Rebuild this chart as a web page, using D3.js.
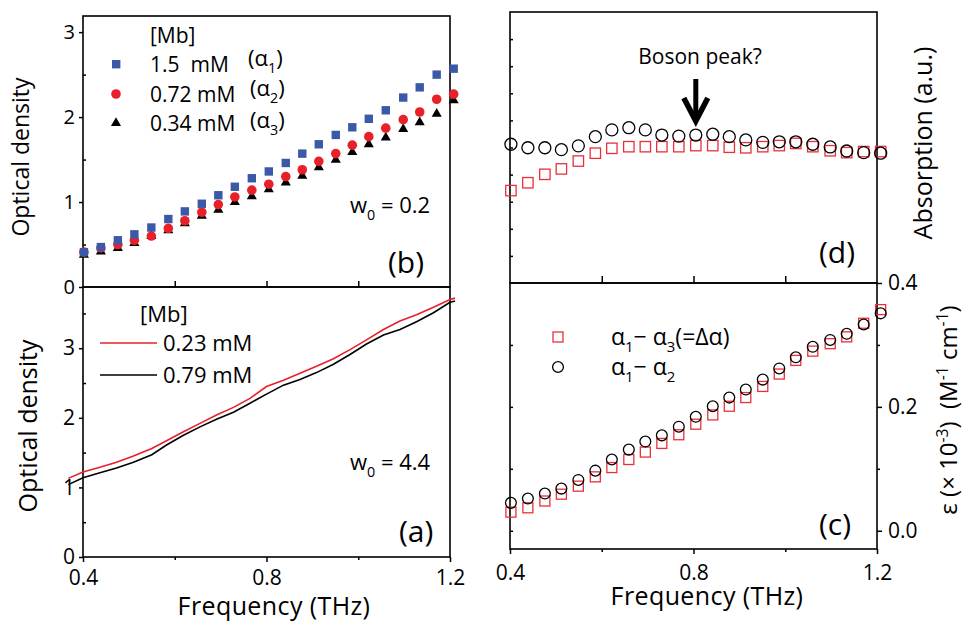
<!DOCTYPE html>
<html>
<head>
<meta charset="utf-8">
<script src="https://cdn.jsdelivr.net/npm/d3@7"></script>
<style>
  body { margin: 0; background: #fff; }
  text { font-family: "Open Sans", sans-serif; fill: #000; }
</style>
</head>
<body>
<div id="chart"></div>
<script>
// frequencies of the measured points (THz)
var freqPts = [0.402, 0.439, 0.476, 0.512, 0.549, 0.586, 0.622, 0.659, 0.695, 0.731, 0.768, 0.805,
               0.842, 0.878, 0.914, 0.951, 0.987, 1.023, 1.06, 1.098, 1.134, 1.171, 1.208];
// panel (b), w0 = 0.2
var od15 = [0.41, 0.47, 0.55, 0.62, 0.70, 0.80, 0.89, 0.98, 1.08, 1.18, 1.28, 1.36,
            1.46, 1.57, 1.68, 1.79, 1.88, 1.98, 2.08, 2.23, 2.35, 2.50, 2.57];
var od072 = [0.41, 0.46, 0.50, 0.55, 0.60, 0.69, 0.78, 0.88, 0.97, 1.06, 1.14, 1.21,
             1.30, 1.38, 1.48, 1.57, 1.67, 1.77, 1.87, 1.97, 2.06, 2.21, 2.27];
var od034 = [0.39, 0.43, 0.47, 0.53, 0.61, 0.68, 0.76, 0.85, 0.92, 1.01, 1.08, 1.16,
             1.24, 1.32, 1.42, 1.51, 1.60, 1.69, 1.77, 1.87, 1.95, 2.05, 2.21];
// panel (a), w0 = 4.4
var freqLine = [0.368, 0.4, 0.437, 0.473, 0.51, 0.55, 0.582, 0.619, 0.655, 0.691, 0.728, 0.764, 0.8,
                0.837, 0.873, 0.909, 0.946, 0.982, 1.018, 1.055, 1.091, 1.127, 1.164, 1.2, 1.211];
var od023 = [1.13, 1.22, 1.29, 1.36, 1.45, 1.56, 1.67, 1.80, 1.92, 2.04, 2.15, 2.28, 2.45,
             2.54, 2.64, 2.74, 2.85, 2.98, 3.12, 3.27, 3.39, 3.48, 3.59, 3.70, 3.72];
var od079 = [1.04, 1.14, 1.21, 1.28, 1.36, 1.47, 1.61, 1.75, 1.87, 1.98, 2.08, 2.21, 2.34,
             2.47, 2.55, 2.65, 2.77, 2.91, 3.06, 3.19, 3.27, 3.38, 3.51, 3.66, 3.68];
// panel (d), absorption (a.u.)
var absA13 = [3.41, 3.70, 4.01, 4.21, 4.50, 4.79, 4.97, 5.03, 5.03, 5.03, 5.03, 5.07,
              5.07, 5.01, 4.99, 5.03, 5.07, 5.15, 5.03, 4.88, 4.81, 4.85, 4.85];
var absA12 = [5.12, 4.99, 4.99, 4.92, 5.06, 5.40, 5.65, 5.73, 5.65, 5.46, 5.42, 5.46,
              5.49, 5.40, 5.28, 5.19, 5.21, 5.21, 5.12, 5.02, 4.87, 4.81, 4.79];
// panel (c), epsilon (x 10^-3)
var epsA13 = [0.030, 0.037, 0.048, 0.059, 0.072, 0.087, 0.102, 0.115, 0.127, 0.141, 0.155, 0.172,
              0.187, 0.201, 0.215, 0.233, 0.253, 0.275, 0.290, 0.302, 0.313, 0.335, 0.357];
var epsA12 = [0.045, 0.052, 0.060, 0.068, 0.082, 0.097, 0.115, 0.131, 0.144, 0.154, 0.168, 0.184,
              0.201, 0.215, 0.228, 0.244, 0.262, 0.280, 0.297, 0.308, 0.318, 0.333, 0.351];

var bosonFreq = 0.805;

var RED = "#e8202a", BLUE = "#3a5aa8", OPENRED = "#e8303a";
var FONT = '"Open Sans", sans-serif';

var svg = d3.select("#chart").append("svg").attr("width", 964).attr("height", 622);

var xL = d3.scaleLinear().domain([0.4, 1.2]).range([83, 450]);
var xR = d3.scaleLinear().domain([0.4, 1.2]).range([510, 877]);
var yB = d3.scaleLinear().domain([0, 3.19]).range([287, 16]);
var yA = d3.scaleLinear().domain([0, 3.88]).range([557, 287]);
var yD = d3.scaleLinear().domain([0, 10]).range([283, 12]);
var yC = d3.scaleLinear().domain([-0.0295, 0.4]).range([549, 283]);

function frame(x, y) {
    svg.append("rect")
        .attr("x", x.range()[0]).attr("y", y.range()[1])
        .attr("width", x.range()[1] - x.range()[0])
        .attr("height", y.range()[0] - y.range()[1])
        .attr("fill", "none").attr("stroke", "#000").attr("stroke-width", 1.6);
}

function ax(gen, tx, ty, vals, size, fmt, fs, pad) {
    var g = svg.append("g")
        .attr("transform", "translate(" + tx + "," + ty + ")")
        .call(gen.tickValues(vals).tickSize(size).tickPadding(pad || 4)
            .tickFormat(fmt || function () { return ""; }));
    g.select(".domain").remove();
    g.selectAll("line").attr("stroke", "#000").attr("stroke-width", 1.5);
    g.attr("font-family", FONT).attr("font-size", fs || 18);
    g.selectAll("text").attr("fill", "#000");
    return g;
}

function label(x, y, size, parts, opts) {
    opts = opts || {};
    var t = svg.append("text")
        .attr("x", x).attr("y", y)
        .attr("font-size", size)
        .style("white-space", "pre")
        .attr("text-anchor", opts.anchor || "start");
    if (opts.rotate) {
        t.attr("x", 0).attr("y", 0)
            .attr("transform", "translate(" + x + "," + y + ") rotate(-90)");
    }
    if (opts.spacing) t.attr("letter-spacing", opts.spacing);
    // parts: strings, or [text, "sub"|"sup"]
    var shift = 0;
    parts.forEach(function (p) {
        var s = typeof p === "string" ? p : p[0];
        var kind = typeof p === "string" ? null : p[1];
        var want = kind === "sub" ? size * 0.3 : kind === "sup" ? -size * 0.38 : 0;
        var ts = t.append("tspan").attr("dy", want - shift).text(s);
        if (kind) ts.attr("font-size", size * 0.65);
        shift = want;
    });
    return t;
}

var fmt1 = d3.format(".1f"), fmtD = d3.format("d");

// ---------- panel (b) ----------
frame(xL, yB);
ax(d3.axisLeft(yB), 83, 0, [0, 1, 2, 3], 4, fmtD, 20, 4);
ax(d3.axisLeft(yB), 83, 0, [0.5, 1.5, 2.5], -3);
ax(d3.axisBottom(xL), 0, 287, [0.6, 0.8, 1.0], -6);

svg.append("g").selectAll("path")
    .data(freqPts.map(function (f, i) { return [f, od034[i]]; }))
    .join("path")
    .attr("d", d3.symbol(d3.symbolTriangle).size(44))
    .attr("transform", function (d) { return "translate(" + xL(d[0]) + "," + (yB(d[1]) + 1) + ")"; })
    .attr("fill", "#000");
svg.append("g").selectAll("circle")
    .data(freqPts.map(function (f, i) { return [f, od072[i]]; }))
    .join("circle")
    .attr("cx", function (d) { return xL(d[0]); })
    .attr("cy", function (d) { return yB(d[1]); })
    .attr("r", 4.8).attr("fill", RED);
svg.append("g").selectAll("rect")
    .data(freqPts.map(function (f, i) { return [f, od15[i]]; }))
    .join("rect")
    .attr("x", function (d) { return xL(d[0]) - 4.2; })
    .attr("y", function (d) { return yB(d[1]) - 4.2; })
    .attr("width", 8.4).attr("height", 8.4).attr("fill", BLUE);

// legend (b)
label(150, 43, 21, ["[Mb]"]);
svg.append("rect").attr("x", 112).attr("y", 60).attr("width", 8.4).attr("height", 8.4).attr("fill", BLUE);
svg.append("circle").attr("cx", 116).attr("cy", 94).attr("r", 4.8).attr("fill", RED);
svg.append("path").attr("d", d3.symbol(d3.symbolTriangle).size(44)())
    .attr("transform", "translate(116,123)").attr("fill", "#000");
label(150, 72, 21, ["1.5  mM"]);
label(150, 102, 21, ["0.72 mM"]);
label(150, 131, 21, ["0.34 mM"]);
label(248, 66, 22, ["(\u03b1", ["1", "sub"], ")"]);
label(250, 96, 22, ["(\u03b1", ["2", "sub"], ")"]);
label(250, 128, 22, ["(\u03b1", ["3", "sub"], ")"]);
label(350, 213, 22, ["w", ["0", "sub"], " = 0.2"]);
label(388, 273, 30, ["(b)"]);
label(29, 157, 23, ["Optical density"], { rotate: true, anchor: "middle" });

// ---------- panel (a) ----------
frame(xL, yA);
ax(d3.axisLeft(yA), 83, 0, [0, 1, 2, 3], 4, fmtD, 21, 4);
ax(d3.axisLeft(yA), 83, 0, [0.5, 1.5, 2.5, 3.5], -3);
ax(d3.axisBottom(xL), 0, 557, [0.4, 0.8, 1.2], 5, fmt1, 21, 8);
ax(d3.axisBottom(xL), 0, 557, [0.6, 1.0], 3);

var lineA = d3.line()
    .x(function (d) { return xL(d[0]); })
    .y(function (d) { return yA(d[1]); });
svg.append("path")
    .attr("d", lineA(freqLine.map(function (f, i) { return [f, od079[i]]; })))
    .attr("fill", "none").attr("stroke", "#000").attr("stroke-width", 1.6);
svg.append("path")
    .attr("d", lineA(freqLine.map(function (f, i) { return [f, od023[i]]; })))
    .attr("fill", "none").attr("stroke", RED).attr("stroke-width", 1.6);

label(140, 322, 22, ["[Mb]"]);
svg.append("line").attr("x1", 100).attr("x2", 157).attr("y1", 343).attr("y2", 343)
    .attr("stroke", RED).attr("stroke-width", 1.6);
svg.append("line").attr("x1", 100).attr("x2", 157).attr("y1", 375).attr("y2", 375)
    .attr("stroke", "#000").attr("stroke-width", 1.6);
label(163, 351, 22, ["0.23 mM"]);
label(163, 383, 22, ["0.79 mM"]);
label(350, 470, 22, ["w", ["0", "sub"], " = 4.4"]);
label(399, 542, 30, ["(a)"]);
label(37, 426, 25, ["Optical density"], { rotate: true, anchor: "middle" });
label(274, 615, 25, ["Frequency (THz)"], { anchor: "middle", spacing: 0.4 });

// ---------- panel (d) ----------
frame(xR, yD);
ax(d3.axisLeft(yD), 510, 0, [1, 2, 3, 4, 5, 6, 7, 8, 9], -3);
ax(d3.axisBottom(xR), 0, 283, [0.6, 0.8, 1.0], -7);

svg.append("g").selectAll("rect")
    .data(freqPts.map(function (f, i) { return [f, absA13[i]]; }))
    .join("rect")
    .attr("x", function (d) { return xR(d[0]) - 5.2; })
    .attr("y", function (d) { return yD(d[1]) - 5.2; })
    .attr("width", 10.4).attr("height", 10.4)
    .attr("fill", "none").attr("stroke", OPENRED).attr("stroke-width", 1.3);
svg.append("g").selectAll("circle")
    .data(freqPts.map(function (f, i) { return [f, absA12[i]]; }))
    .join("circle")
    .attr("cx", function (d) { return xR(d[0]); })
    .attr("cy", function (d) { return yD(d[1]); })
    .attr("r", 6).attr("fill", "none").attr("stroke", "#000").attr("stroke-width", 1.3);

label(700, 64, 21, ["Boson peak?"], { anchor: "middle" });
var ax0 = xR(bosonFreq);
svg.append("line").attr("x1", ax0).attr("x2", ax0).attr("y1", 79).attr("y2", 118)
    .attr("stroke", "#000").attr("stroke-width", 5);
svg.append("path")
    .attr("d", "M" + (ax0 - 12) + ",98L" + ax0 + ",121L" + (ax0 + 12) + ",98")
    .attr("fill", "none").attr("stroke", "#000").attr("stroke-width", 5.5);
label(819, 263, 30, ["(d)"]);
label(932, 143, 25, ["Absorption (a.u.)"], { rotate: true, anchor: "middle" });

// ---------- panel (c) ----------
frame(xR, yC);
ax(d3.axisLeft(yC), 510, 0, [0, 0.1, 0.2, 0.3], -3);
ax(d3.axisRight(yC), 877, 0, [0, 0.2, 0.4], 5, fmt1, 21, 6);
ax(d3.axisRight(yC), 877, 0, [0.1, 0.3], 3);
ax(d3.axisBottom(xR), 0, 549, [0.4, 0.8, 1.2], 5, fmt1, 21, 11);
ax(d3.axisBottom(xR), 0, 549, [0.6, 1.0], 3);

svg.append("g").selectAll("rect")
    .data(freqPts.map(function (f, i) { return [f, epsA13[i]]; }))
    .join("rect")
    .attr("x", function (d) { return xR(d[0]) - 5; })
    .attr("y", function (d) { return yC(d[1]) - 5; })
    .attr("width", 10).attr("height", 10)
    .attr("fill", "none").attr("stroke", OPENRED).attr("stroke-width", 1.3);
svg.append("g").selectAll("circle")
    .data(freqPts.map(function (f, i) { return [f, epsA12[i]]; }))
    .join("circle")
    .attr("cx", function (d) { return xR(d[0]); })
    .attr("cy", function (d) { return yC(d[1]); })
    .attr("r", 5.4).attr("fill", "none").attr("stroke", "#000").attr("stroke-width", 1.3);

svg.append("rect").attr("x", 553).attr("y", 332).attr("width", 10).attr("height", 10)
    .attr("fill", "none").attr("stroke", OPENRED).attr("stroke-width", 1.3);
svg.append("circle").attr("cx", 558).attr("cy", 367).attr("r", 5.4)
    .attr("fill", "none").attr("stroke", "#000").attr("stroke-width", 1.3);
label(611, 345, 23, ["\u03b1", ["1", "sub"], "\u2212 \u03b1", ["3", "sub"], "(=\u0394\u03b1)"]);
label(611, 375, 23, ["\u03b1", ["1", "sub"], "\u2212 \u03b1", ["2", "sub"]]);
label(819, 535, 30, ["(c)"]);
label(707, 605, 25, ["Frequency (THz)"], { anchor: "middle", spacing: 0.4 });
label(957, 410, 24, ["\u03b5 (\u00d7 10", ["-3", "sup"], ")  (M", ["-1", "sup"], " cm", ["-1", "sup"], ")"],
    { rotate: true, anchor: "middle" });
</script>
</body>
</html>
